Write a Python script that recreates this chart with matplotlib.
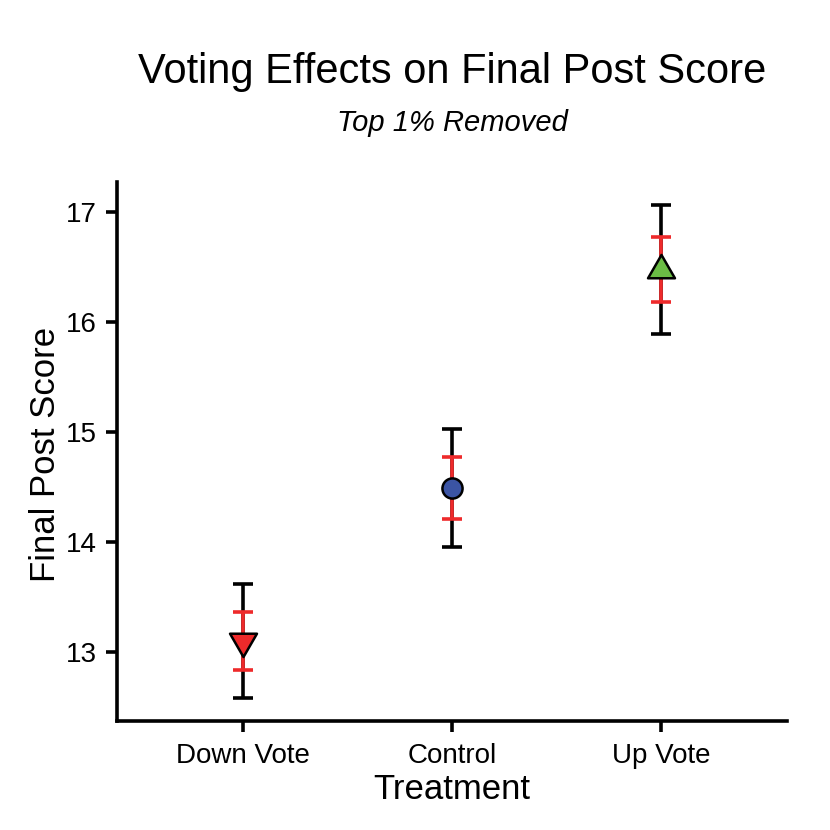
import matplotlib
matplotlib.use("Agg")
import matplotlib.pyplot as plt
import numpy as np
from matplotlib.path import Path

plt.rcParams['font.family'] = ['Liberation Sans', 'DejaVu Sans']

treatments = ["Down Vote", "Control", "Up Vote"]
means = [13.10, 14.486, 16.475]
ci_low = [12.58, 13.95, 15.89]
ci_high = [13.62, 15.03, 17.06]
se_low = [12.836, 14.21, 16.18]
se_high = [13.366, 14.77, 16.77]
fills = ["#EE2A2B", "#3B54A4", "#6BBD45"]
yticks = [13, 14, 15, 16, 17]

up_tri = Path([(0, 1), (-0.866, -0.5), (0.866, -0.5), (0, 1)],
              [Path.MOVETO, Path.LINETO, Path.LINETO, Path.CLOSEPOLY])
down_tri = Path([(0, -1), (-0.866, 0.5), (0.866, 0.5), (0, -1)],
                [Path.MOVETO, Path.LINETO, Path.LINETO, Path.CLOSEPOLY])
markers = [down_tri, 'o', up_tri]
msizes = [22.4, 14.5, 22.4]

fig = plt.figure(figsize=(8.3, 8.3), dpi=100)
ax = fig.add_axes([117/830, 1-721/830, (787-117)/830, (721-182)/830])

x = np.arange(len(treatments))
m = np.array(means)
lw = 2.6
ax.errorbar(x, m, yerr=[m - np.array(ci_low), np.array(ci_high) - m], fmt='none',
            ecolor='black', elinewidth=lw, capsize=7.4, capthick=lw, zorder=2)
ax.errorbar(x, m, yerr=[m - np.array(se_low), np.array(se_high) - m], fmt='none',
            ecolor='#EE2A2B', elinewidth=lw, capsize=7.4, capthick=lw, zorder=3)
for i in range(len(treatments)):
    ax.plot(x[i], means[i], linestyle='none', marker=markers[i], markersize=msizes[i],
            markerfacecolor=fills[i], markeredgecolor='black', markeredgewidth=1.8, zorder=4)

ax.set_xlim(-0.6, 2.6)
ax.set_ylim(12.373, 17.27)
ax.set_xticks(x)
ax.set_xticklabels(treatments)
ax.set_yticks(yticks)
ax.set_yticklabels([str(t) for t in yticks])
for s in ['top', 'right']:
    ax.spines[s].set_visible(False)
for s in ['left', 'bottom']:
    ax.spines[s].set_linewidth(lw)
    ax.spines[s].set_capstyle('projecting')
ax.tick_params(axis='both', length=8, width=lw, labelsize=20, colors='black')
ax.tick_params(axis='x', pad=7.5)
ax.tick_params(axis='y', pad=6.5)

ax.set_xlabel("Treatment", fontsize=25, va='baseline')
ax.xaxis.set_label_coords(452/830, 1-799/830, transform=fig.transFigure)
ax.set_ylabel("Final Post Score", fontsize=25, va='center')
ax.yaxis.set_label_coords(45.5/830, 1-454/830, transform=fig.transFigure)

fig.text(452/830, 1-83/830, "Voting Effects on Final Post Score", ha='center', va='baseline', fontsize=30)
fig.text(452/830, 1-131/830, "Top 1% Removed", ha='center', va='baseline', fontsize=21, style='italic')

fig.savefig("out.png", dpi=100)
